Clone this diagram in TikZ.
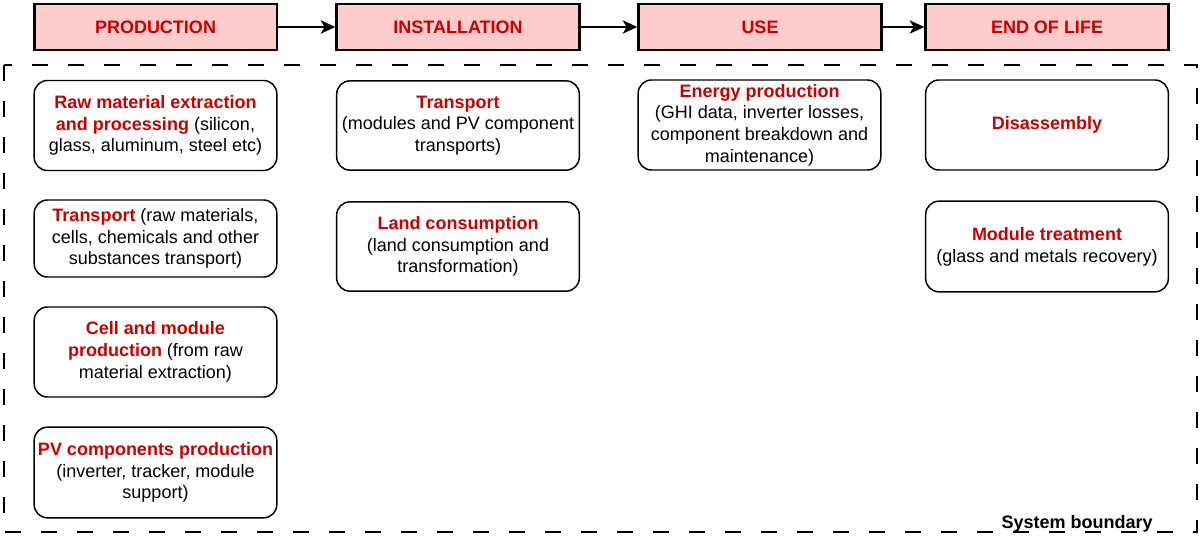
\documentclass[tikz,border=0pt]{standalone}
\usepackage{fontspec}
\setmainfont{Liberation Sans}
\usetikzlibrary{arrows.meta}
\definecolor{stagefill}{HTML}{FFCCCC}
\definecolor{stagered}{HTML}{CC0000}
\newcommand{\redbf}[1]{\textcolor{stagered}{\bfseries #1}}
\tikzset{
  stage/.style={draw, line width=2pt, fill=stagefill, minimum width=182pt, minimum height=34.5pt,
    font=\fontsize{13.5pt}{16.3pt}\selectfont\bfseries, text=stagered},
  item/.style={draw, line width=1.1pt, rounded corners=10pt, minimum width=182pt, minimum height=67.5pt,
    align=center, inner sep=1.5pt},
  flow/.style={line width=1.3pt, -{Stealth[length=11pt,width=10pt,inset=3pt]}}
}
\begin{document}
\begin{tikzpicture}[x=0.75pt,y=-0.75pt,font=\fontsize{13.5pt}{16.3pt}\selectfont]
			\useasboundingbox (0,0) rectangle (1200,537);

			\node[stage] (prod) at (155.5,27) {PRODUCTION};
			\node[stage] (inst) at (458,27) {INSTALLATION};
			\node[stage] (use) at (760,27) {USE};
			\node[stage] (eol) at (1047,27) {END OF LIFE};
			\draw[flow] (prod) -- (inst);
			\draw[flow] (inst) -- (use);
			\draw[flow] (use) -- (eol);

			\draw[line width=1.1pt, dash pattern=on 12pt off 15pt] (4,65) rectangle (1197,532);
			\node[anchor=base east, inner sep=0pt, font=\fontsize{13.5pt}{16.3pt}\selectfont\bfseries] (sysb) at (1153,528) {System boundary};

			\node[item] (raw) at (155.5,125.5) {\redbf{Raw material extraction}\\ \redbf{and processing} (silicon,\\ glass, aluminum, steel etc)};
			\node[item, minimum height=57.75pt] (tra1) at (155.5,238.5) {\redbf{Transport} (raw materials,\\ cells, chemicals and other\\ substances transport)};
			\node[item] (cell) at (155.5,352) {\redbf{Cell and module}\\ \redbf{production} (from raw\\ material extraction)};
			\node[item, minimum height=68pt] (pvc) at (155.5,472.5) {\redbf{PV components production}\\ (inverter, tracker, module\\ support)};

			\node[item, minimum height=67pt] (tra2) at (458,125.5) {\redbf{Transport}\\ (modules and PV component\\ transports)};
			\node[item, minimum height=67pt] (land) at (458,246.5) {\redbf{Land consumption}\\ (land consumption and\\ transformation)};

			\node[item] (ener) at (759.5,125) {\redbf{Energy production}\\ (GHI data, inverter losses,\\ component breakdown and\\ maintenance)};

			\node[item] (dis) at (1047,125) {\redbf{Disassembly}};
			\node[item, minimum height=68pt] (mod) at (1047,246.5) {\redbf{Module treatment}\\ (glass and metals recovery)};
		\end{tikzpicture}
\end{document}
